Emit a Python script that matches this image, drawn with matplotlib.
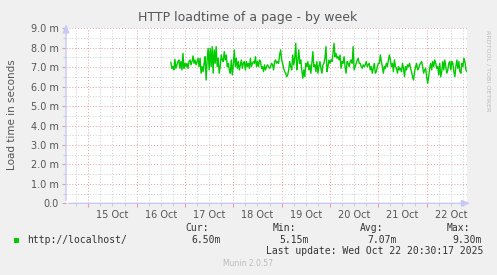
import matplotlib
matplotlib.use("Agg")
import matplotlib.pyplot as plt
from matplotlib.ticker import MultipleLocator, FixedLocator, FuncFormatter
import numpy as np

# load time in milliseconds, one sample per 30 minutes, starting 16 Oct ~17:00
loadtime_ms = [
    7.25, 6.94, 7.03, 6.86, 7.41, 6.94, 7.12, 7.29, 7.37, 6.94,
    7.29, 6.86, 7.71, 6.94, 7.20, 7.03, 7.20, 6.94, 7.29, 7.37,
    7.12, 7.29, 7.58, 7.20, 7.37, 7.12, 7.29, 7.46, 7.03, 7.46,
    6.69, 7.03, 6.77, 7.20, 7.54, 6.34, 7.37, 7.97, 6.86, 7.97,
    7.03, 8.06, 6.69, 7.89, 7.20, 8.06, 7.03, 7.46, 6.69, 7.03,
    7.63, 7.37, 7.29, 7.80, 7.37, 7.63, 7.03, 7.20, 6.86, 6.69,
    7.37, 6.60, 7.12, 7.89, 7.03, 7.46, 6.94, 7.29, 6.86, 7.12,
    7.37, 6.94, 7.20, 7.29, 6.86, 7.29, 7.03, 7.20, 6.94, 7.46,
    7.03, 7.20, 7.29, 7.20, 7.54, 7.03, 7.29, 7.03, 7.37, 7.29,
    6.94, 7.03, 6.77, 7.12, 6.86, 7.03, 7.12, 7.03, 6.94, 7.03,
    7.20, 7.12, 6.86, 7.29, 7.37, 7.20, 7.29, 7.20, 7.63, 7.89,
    7.37, 7.20, 6.94, 6.77, 6.69, 6.51, 6.60, 6.86, 7.29, 7.03,
    6.86, 7.63, 7.12, 7.46, 8.23, 6.86, 7.29, 7.89, 7.20, 7.37,
    6.86, 6.43, 6.86, 6.51, 7.20, 7.03, 7.29, 6.86, 7.12, 6.69,
    7.20, 7.80, 7.03, 7.12, 6.77, 7.29, 6.69, 7.03, 7.29, 6.94,
    6.69, 7.12, 7.20, 7.46, 8.06, 6.77, 7.03, 7.37, 7.20,
    7.37, 7.29, 7.71, 8.23, 7.54, 7.71, 7.46, 7.54, 7.37, 7.63,
    6.94, 7.29, 7.20, 7.54, 7.03, 6.69, 7.29, 7.20, 7.03, 7.29,
    7.37, 7.20, 8.06, 6.86, 7.03, 7.20, 7.37, 7.46, 7.20, 7.20,
    7.03, 6.94, 7.12, 7.03, 7.12, 7.29, 7.03, 7.12, 7.20, 6.86,
    7.03, 6.69, 6.94, 7.20, 6.69, 6.77, 7.03, 7.20, 7.20, 7.63,
    7.29, 7.03, 6.69, 7.03, 6.94, 7.20, 7.03, 7.37, 7.63, 7.37,
    7.03, 7.20, 6.77, 7.37, 7.03, 6.94, 6.69, 7.03, 6.86, 6.94,
    6.77, 7.20, 6.94, 6.51, 7.03, 6.86, 7.12, 7.03, 7.20, 6.94,
    6.77, 6.51, 6.34, 6.77, 7.03, 7.20, 6.86, 6.94, 7.12, 7.20,
    7.29, 7.03, 6.69, 6.86, 6.94, 6.51, 6.17, 6.51, 6.94, 7.20,
    6.86, 7.29, 7.03, 7.37, 7.20, 6.94, 7.03, 6.60, 7.20, 6.51,
    6.77, 7.29, 6.86, 7.37, 7.03, 6.69, 6.86, 7.20, 7.29, 6.86,
    7.29, 7.20, 6.77, 6.51, 7.03, 7.37, 6.94, 7.29, 6.77, 6.69,
    7.20, 7.03, 7.46, 7.29, 6.86, 6.77,
]
start_hour = 41.0      # hours after 15 Oct 00:00
step_hour = 0.5

day_labels = ["15 Oct", "16 Oct", "17 Oct", "18 Oct", "19 Oct", "20 Oct", "21 Oct", "22 Oct"]

series_name = "http://localhost/"
stat_names = ["Cur:", "Min:", "Avg:", "Max:"]
stat_values = ["6.50m", "5.15m", "7.07m", "9.30m"]
last_update = "Last update: Wed Oct 22 20:30:17 2025"

TEXT = "#555555"
BG = "#F0F0F0"
GREEN = "#00CC00"
MAJOR = "#E0A0A0"
MINOR = "#CCCCCC"
AXIS = "#C8C8F8"

W, H = 497, 275
fig = plt.figure(figsize=(W / 100, H / 100), dpi=100, facecolor=BG)
ax = fig.add_axes([66 / W, 1 - 203.3 / H, 401 / W, 175 / H])
ax.set_facecolor("white")

hours = start_hour + step_hour * np.arange(len(loadtime_ms))
ax.plot(hours, loadtime_ms, color=GREEN, lw=1.0, zorder=3)

ax.set_xlim(-11.07, 188.03)
ax.set_ylim(0, 9.0)

# y axis: major every 1.0 m, minor every 0.5 m
ax.yaxis.set_major_locator(MultipleLocator(1.0))
ax.yaxis.set_minor_locator(MultipleLocator(0.5))
ax.yaxis.set_major_formatter(FuncFormatter(lambda v, p: "0.0" if v == 0 else f"{v:.1f} m"))

# x axis: major at midnight, minor every 6 h, day labels at noon
ax.xaxis.set_major_locator(MultipleLocator(24))
ax.xaxis.set_minor_locator(FixedLocator([h for h in range(-6, 190, 6) if h % 24 != 0]))
ax.xaxis.set_major_formatter(FuncFormatter(lambda v, p: ""))


def day_fmt(v, p):
    h = int(round(v))
    if h % 24 == 12 and 0 <= h // 24 < len(day_labels):
        return day_labels[h // 24]
    return ""


ax.xaxis.set_minor_formatter(FuncFormatter(day_fmt))

ax.grid(which="major", color=MAJOR, ls=(0, (1, 2)), lw=0.7)
ax.grid(which="minor", color=MINOR, ls=(0, (1, 2)), lw=0.7)
ax.set_axisbelow(True)

ax.tick_params(which="major", length=3, width=0.8, color=MAJOR, labelsize=7, labelcolor=TEXT, pad=2)
ax.tick_params(which="minor", length=2, width=0.8, color=MINOR, labelsize=7, labelcolor=TEXT, pad=2)
ax.tick_params(axis="x", which="minor", pad=3)
ax.tick_params(axis="y", which="minor", labelleft=False)

for s in ax.spines.values():
    s.set_visible(False)

# axis lines with arrow heads
ax.annotate("", xy=(0, 1.04), xytext=(0, 0), xycoords="axes fraction",
            arrowprops=dict(arrowstyle="-|>,head_length=0.5,head_width=0.2", color=AXIS, lw=1),
            annotation_clip=False)
ax.annotate("", xy=(1.015, 0), xytext=(0, 0), xycoords="axes fraction",
            arrowprops=dict(arrowstyle="-|>,head_length=0.5,head_width=0.2", color=AXIS, lw=1),
            annotation_clip=False)

fig.text(248 / W, 1 - 17 / H, "HTTP loadtime of a page - by week", ha="center", va="center",
         fontsize=9, color=TEXT)
fig.text(12 / W, 1 - 115 / H, "Load time in seconds", rotation=90, ha="center", va="center",
         fontsize=7.5, color=TEXT)
fig.text(488 / W, 1 - 30 / H, "RRDTOOL / TOBI OETIKER", rotation=270, ha="center", va="top",
         fontsize=4.6, color="#BBBBBB")

# legend area
mono = "DejaVu Sans Mono"
fig.patches.append(plt.Rectangle((14 / W, 1 - 243 / H), 5 / W, 5 / H, transform=fig.transFigure,
                                 facecolor=GREEN, edgecolor="none"))
fig.text(27 / W, 1 - 240 / H, series_name, family=mono, fontsize=7, color="#333333", va="center")
name_x = [185, 273, 360, 447]
val_x = [191, 279, 367, 452]
for nx_, vx_, n, v in zip(name_x, val_x, stat_names, stat_values):
    fig.text(nx_ / W, 1 - 228 / H, n, family=mono, fontsize=7, color="#333333", va="center")
    fig.text(vx_ / W, 1 - 240 / H, v, family=mono, fontsize=7, color="#333333", va="center")
fig.text(483 / W, 1 - 251.5 / H, last_update, family=mono, fontsize=7, color="#333333",
         ha="right", va="center")
fig.text(248 / W, 1 - 264 / H, "Munin 2.0.57", fontsize=5.5, color="#BBBBBB", ha="center", va="center")

fig.savefig("out.png", dpi=100, facecolor=BG)
